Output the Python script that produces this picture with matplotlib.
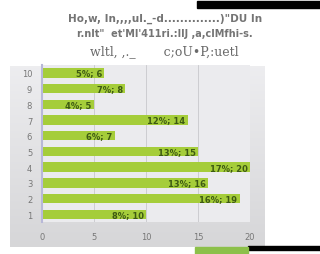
import numpy as np
import matplotlib
matplotlib.use("Agg")
import matplotlib.pyplot as plt
from matplotlib.patches import Rectangle

# data
categories = ["1", "2", "3", "4", "5", "6", "7", "8", "9", "10"]
counts = [10, 19, 16, 20, 15, 7, 14, 5, 8, 6]
percents = [8, 16, 13, 17, 13, 6, 12, 4, 7, 5]
xticks = [0, 5, 10, 15, 20]
title_lines = [
    "Ho,w, In,,,,ul._-d..............)\"DU In",
    "r.nlt\"  et'Ml'411ri.:llJ ,a,clMfhi-s.",
    "wltl, ,._       c;oU\u2022P,:uetl",
]

fig = plt.figure(figsize=(3.2, 2.55), dpi=100)
fig.patch.set_facecolor("white")

# gray panel behind the chart
panel = fig.add_axes([0, 0, 1, 1], zorder=0)
panel.axis("off")
grad = np.linspace(0.93, 0.84, 100).reshape(-1, 1)
panel.imshow(np.dstack([grad, grad, grad * 1.01]).clip(0, 1),
             extent=(10, 265, 248, 67), aspect="auto")
panel.add_patch(Rectangle((197, 2), 123, 7, color="black"))
panel.add_patch(Rectangle((248, 247), 72, 4, color="black"))
panel.add_patch(Rectangle((195, 248), 53, 7, color="#8cc04a"))
panel.set_xlim(0, 320); panel.set_ylim(255, 0)

fig.text(0.515, 0.915, title_lines[0], ha="center", fontsize=7.5, fontweight="bold", color="#747474")
fig.text(0.515, 0.855, title_lines[1], ha="center", fontsize=7, fontweight="bold", color="#747474")
fig.text(0.515, 0.783, title_lines[2], ha="center", fontsize=9, family="DejaVu Serif", color="#6a6a6a")

ax = fig.add_axes([0.131, 0.125, 0.65, 0.616], zorder=1)
ax.set_facecolor("#ebebee")
y = np.arange(len(categories))
bars = ax.barh(y, counts, height=0.6, color="#a5cd3a", zorder=2)
for b, c, p in zip(bars, counts, percents):
    ax.text(b.get_width() - 0.2, b.get_y() + b.get_height() / 2, f"{p}%; {c}",
            ha="right", va="center", fontsize=6, fontweight="bold", color="#3d5a12", zorder=3)
ax.set_xlim(0, 20)
ax.set_ylim(-0.5, len(categories) - 0.5)
ax.set_yticks(y, categories)
ax.set_xticks(xticks)
ax.xaxis.grid(True, color="#c8c8cc", linewidth=0.6, zorder=1)
ax.tick_params(length=0, labelsize=6, colors="#777777", pad=7)
for s in ("top", "right", "bottom"):
    ax.spines[s].set_visible(False)
ax.spines["left"].set_color("#b8b8d8")
ax.spines["left"].set_linewidth(1.5)

fig.savefig("out.png", dpi=100, facecolor="white")
